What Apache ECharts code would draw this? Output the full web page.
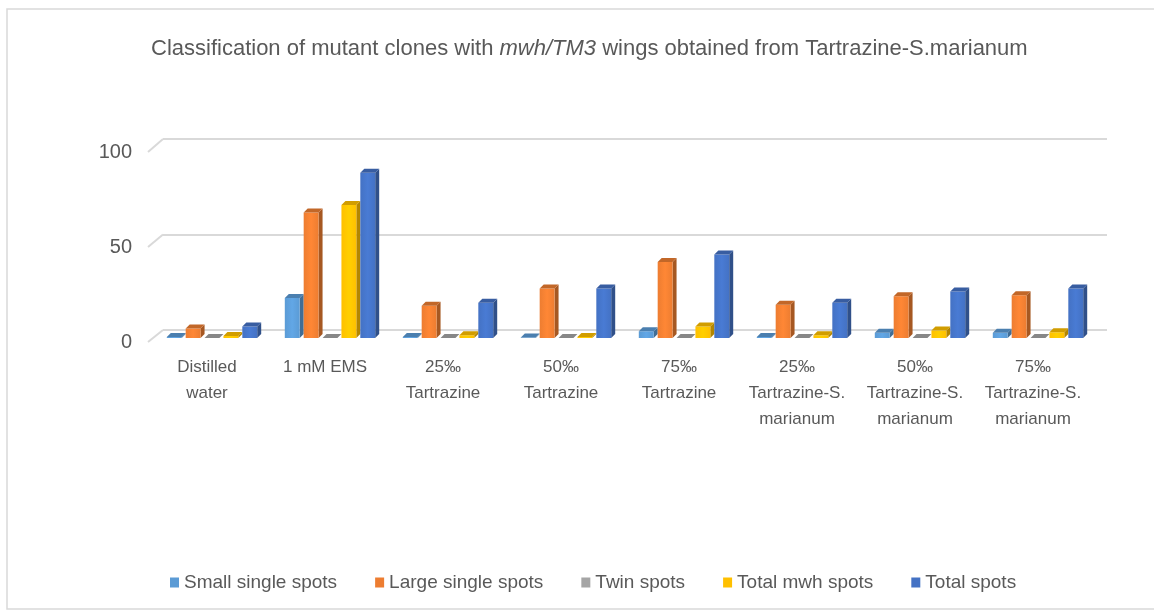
<!DOCTYPE html>
<html><head><meta charset="utf-8">
<script src="https://cdn.jsdelivr.net/npm/echarts@6/dist/echarts.min.js"></script>
<style>html,body{margin:0;padding:0;background:#fff}#c{width:1154px;height:614px}</style>
</head><body><div id="c"></div>
<script>
const categories = ['Distilled\nwater', '1 mM EMS', '25‰\nTartrazine', '50‰\nTartrazine', '75‰\nTartrazine',
  '25‰\nTartrazine-S.\nmarianum', '50‰\nTartrazine-S.\nmarianum', '75‰\nTartrazine-S.\nmarianum'];
const seriesNames = ['Small single spots', 'Large single spots', 'Twin spots', 'Total mwh spots', 'Total spots'];
const smallSingle = [0.5, 21, 0.5, 0.3, 3.5, 0.5, 2.7, 2.7];
const largeSingle = [5, 66, 17, 26, 40, 17.5, 22, 22.5];
const twinSpots   = [0, 0, 0, 0, 0, 0, 0, 0];
const totalMwh    = [1, 70, 1.5, 0.5, 6, 1.5, 4, 3];
const totalSpots  = [6, 87, 18.5, 26, 44, 18.5, 24.5, 26];
const yTicks = [0, 50, 100];
const colors = ['#5B9BD5', '#ED7D31', '#A5A5A5', '#FFC000', '#4472C4'];

const allValues = [smallSingle, largeSingle, twinSpots, totalMwh, totalSpots];
const TXT = '#595959';
const FONT = 'Liberation Sans';

function shade(hex, f) {
  const n = parseInt(hex.slice(1), 16);
  const r = Math.round(((n >> 16) & 255) * f), g = Math.round(((n >> 8) & 255) * f), b = Math.round((n & 255) * f);
  return 'rgb(' + Math.min(255, r) + ',' + Math.min(255, g) + ',' + Math.min(255, b) + ')';
}

function make3D(idx, color) {
  const dark = shade(color, 0.7), topc = shade(color, 0.82), light = shade(color, 1.08);
  return function (params, api) {
    const ci = api.value(0), v = api.value(1);
    const b = api.coord([ci, 0]), t = api.coord([ci, v]);
    const band = api.size([1, 0])[0];
    const slot = band * 0.8 / 5;
    const x = b[0] - band * 0.4 + idx * slot;
    const dx = 4, dy = 4, fw = slot - dx;
    const top = t[1], bot = b[1];
    return {
      type: 'group', children: [
        { type: 'polygon', shape: { points: [[x + fw, top], [x + fw + dx, top - dy], [x + fw + dx, bot - dy], [x + fw, bot]] }, style: { fill: dark } },
        { type: 'rect', shape: { x: x, y: top, width: fw, height: Math.max(0, bot - top) },
          style: { fill: new echarts.graphic.LinearGradient(0, 0, 1, 0, [{ offset: 0, color: color }, { offset: 0.5, color: light }, { offset: 1, color: color }]) } },
        { type: 'polygon', shape: { points: [[x, top], [x + dx, top - dy], [x + fw + dx, top - dy], [x + fw, top]] }, style: { fill: topc } }
      ]
    };
  };
}

const chart = echarts.init(document.getElementById('c'), null, { renderer: 'canvas' });
const grids = [
  { left: 148, right: 62, top: 152, bottom: 272, outerBoundsMode: 'none' },
  { left: 155, right: 55, top: 148, bottom: 276, outerBoundsMode: 'none' },
  { left: 163, right: 47, top: 139, bottom: 284, outerBoundsMode: 'none' }
];
const option = {
  backgroundColor: '#fff',
  animation: false,
  title: {
    text: 'Classification of mutant clones with {i|mwh/TM3} wings obtained from Tartrazine-S.marianum',
    left: 146, top: 33,
    textStyle: { color: TXT, fontSize: 22, fontFamily: FONT, fontWeight: 'normal',
      rich: { i: { fontStyle: 'italic', color: TXT, fontSize: 22, fontFamily: FONT } } }
  },
  legend: {
    data: seriesNames, top: 568, left: 165, icon: 'rect', itemWidth: 9, itemHeight: 10, itemGap: 38,
    textStyle: { color: TXT, fontSize: 19, fontFamily: FONT }
  },
  grid: grids,
  xAxis: [0, 1, 2].map(g => ({
    type: 'category', data: categories, gridIndex: g, show: g === 0,
    axisLine: { show: false }, axisTick: { show: false }, splitLine: { show: false },
    axisLabel: { show: g === 0, color: TXT, fontSize: 17, fontFamily: FONT, lineHeight: 26, margin: 12, interval: 0, verticalAlign: 'top' }
  })),
  yAxis: [0, 1, 2].map(g => ({
    type: 'value', gridIndex: g, min: yTicks[0], max: yTicks[yTicks.length - 1], interval: yTicks[1] - yTicks[0],
    show: g !== 1,
    axisLine: { show: false }, axisTick: { show: false },
    splitLine: { show: g === 2, lineStyle: { color: '#d9d9d9', width: 2 } },
    axisLabel: { show: g === 0, color: TXT, fontSize: 20, fontFamily: FONT, margin: 16 }
  })),
  series: seriesNames.map((name, i) => ({
    name: name, type: 'custom', xAxisIndex: 1, yAxisIndex: 1,
    itemStyle: { color: colors[i] },
    renderItem: make3D(i, colors[i]),
    encode: { x: 0, y: 1 },
    data: allValues[i].map((v, k) => [k, v])
  }))
};
chart.setOption(option);

// wall-to-front diagonals at each tick, derived from the axis scales
const lines = yTicks.map(v => {
  const f = chart.convertToPixel({ xAxisIndex: 0, yAxisIndex: 0 }, [0, v]);
  const bk = chart.convertToPixel({ xAxisIndex: 2, yAxisIndex: 2 }, [0, v]);
  const f1 = chart.convertToPixel({ xAxisIndex: 0, yAxisIndex: 0 }, [1, v]);
  const bk1 = chart.convertToPixel({ xAxisIndex: 2, yAxisIndex: 2 }, [1, v]);
  const fx = f[0] - (f1[0] - f[0]) / 2, bx = bk[0] - (bk1[0] - bk[0]) / 2;
  return { type: 'line', shape: { x1: fx, y1: f[1], x2: bx, y2: bk[1] }, style: { stroke: '#d9d9d9', lineWidth: 2 }, silent: true };
});
chart.setOption({
  graphic: [
    { type: 'rect', shape: { x: 7, y: 9, width: 1160, height: 600 }, style: { fill: 'none', stroke: '#d9d9d9', lineWidth: 1.5 }, silent: true, z: -1 }
  ].concat(lines)
});
</script>
</body></html>
